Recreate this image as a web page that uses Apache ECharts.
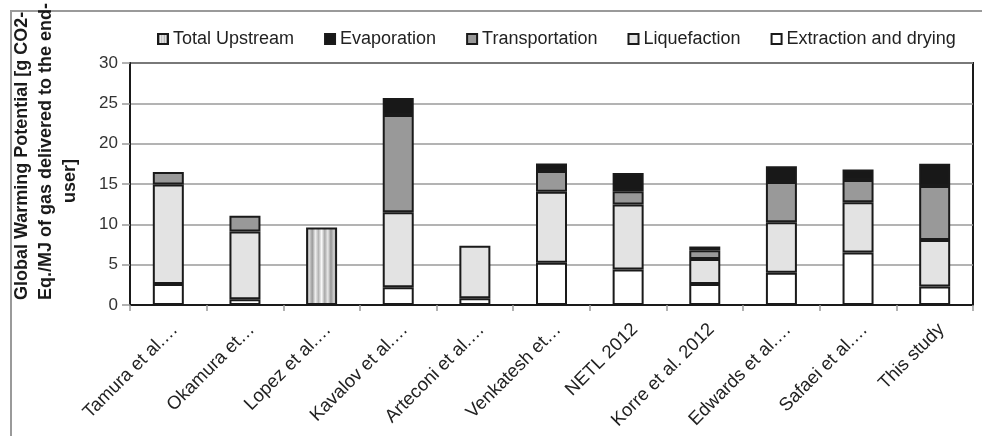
<!DOCTYPE html>
<html>
<head>
<meta charset="utf-8">
<script src="https://cdn.jsdelivr.net/npm/echarts@6/dist/echarts.min.js"></script>
<style>
html,body{margin:0;padding:0;background:#fff;}
#c{width:982px;height:436px;}
</style>
</head>
<body>
<div id="c"></div>
<script>
var categories = ['Tamura et al.\u2026', 'Okamura et\u2026', 'Lopez et al.\u2026', 'Kavalov et al.\u2026', 'Arteconi et al.\u2026', 'Venkatesh et\u2026', 'NETL 2012', 'Korre et al. 2012', 'Edwards et al.\u2026', 'Safaei et al.\u2026', 'This study'];
var extraction     = [2.6, 0.7, null, 2.2, 0.85, 5.25, 4.4, 2.6, 4.0, 6.5, 2.3];
var liquefaction   = [12.35, 8.4, null, 9.3, 6.5, 8.8, 8.05, 3.1, 6.25, 6.25, 5.75];
var transportation = [1.55, 1.95, null, 12.05, null, 2.55, 1.65, 1.1, 5.0, 2.75, 6.7];
var evaporation    = [null, null, null, 2.1, null, 0.95, 2.25, 0.45, 1.95, 1.3, 2.75];
var totalUpstream  = [null, null, 9.6, null, null, null, null, null, null, null, null];
var legendOrder = ['Total Upstream', 'Evaporation', 'Transportation', 'Liquefaction', 'Extraction and drying'];
var yTitleLines = ['Global Warming Potential [g CO2-', 'Eq./MJ of gas delivered to the end-', 'user]'];

var FONT = '"Liberation Sans", Arial, sans-serif';
var chart = echarts.init(document.getElementById('c'), null, {renderer: 'canvas'});

var stripe = new echarts.graphic.LinearGradient(0, 0, 1, 0, [
  {offset: 0, color: '#7a7a7a'}, {offset: 0.1, color: '#d8d8d8'},
  {offset: 0.2, color: '#9a9a9a'}, {offset: 0.3, color: '#eeeeee'},
  {offset: 0.4, color: '#b5b5b5'}, {offset: 0.5, color: '#fafafa'},
  {offset: 0.6, color: '#a8a8a8'}, {offset: 0.7, color: '#e8e8e8'},
  {offset: 0.8, color: '#959595'}, {offset: 0.9, color: '#d0d0d0'},
  {offset: 1, color: '#777777'}
]);

function bar(name, data, color) {
  return {
    name: name, type: 'bar', stack: 'a', data: data, barWidth: 31,
    itemStyle: {color: color, borderColor: '#1a1a1a', borderWidth: 2},
    emphasis: {disabled: true}
  };
}

var option = {
  animation: false,
  backgroundColor: '#fff',
  textStyle: {fontFamily: FONT},
  graphic: [
    {type: 'rect', shape: {x: 11, y: 11, width: 1100, height: 600}, style: {fill: 'none', stroke: '#9a9a9a', lineWidth: 2}, silent: true, z: -1},
    {type: 'text', x: 22, y: 300, rotation: Math.PI / 2, style: {text: yTitleLines[0], font: 'bold 18px ' + FONT, fill: '#1a1a1a', align: 'left', verticalAlign: 'middle'}},
    {type: 'text', x: 46, y: 300, rotation: Math.PI / 2, style: {text: yTitleLines[1], font: 'bold 18px ' + FONT, fill: '#1a1a1a', align: 'left', verticalAlign: 'middle'}},
    {type: 'text', x: 70, y: 181, rotation: Math.PI / 2, style: {text: yTitleLines[2], font: 'bold 18px ' + FONT, fill: '#1a1a1a', align: 'center', verticalAlign: 'middle'}}
  ],
  legend: {
    data: legendOrder,
    left: 152, top: 25,
    itemWidth: 10, itemHeight: 10, itemGap: 30,
    icon: 'rect',
    textStyle: {fontSize: 18, color: '#222', fontFamily: FONT},
    selectedMode: false
  },
  grid: {left: 130, right: 9, top: 63, bottom: 131, show: true, borderColor: '#1a1a1a', borderWidth: 2, backgroundColor: '#fff'},
  xAxis: {
    type: 'category', data: categories,
    axisLine: {lineStyle: {color: '#1a1a1a', width: 2}},
    axisTick: {show: true, alignWithLabel: false, length: 6, lineStyle: {color: '#999', width: 1.5}},
    axisLabel: {rotate: 45, align: 'right', verticalAlign: 'top', margin: 15, fontSize: 18.5, color: '#222', fontFamily: FONT, interval: 0}
  },
  yAxis: {
    type: 'value', min: 0, max: 30, interval: 5,
    axisLine: {show: true, lineStyle: {color: '#1a1a1a', width: 2}},
    axisTick: {show: true, length: 8, lineStyle: {color: '#999', width: 1.5}},
    axisLabel: {margin: 12, fontSize: 17, color: '#333', fontFamily: FONT},
    splitLine: {lineStyle: {color: '#9a9a9a', width: 1.5}}
  },
  series: [
    bar('Extraction and drying', extraction, '#ffffff'),
    bar('Liquefaction', liquefaction, '#e3e3e3'),
    bar('Transportation', transportation, '#999999'),
    bar('Evaporation', evaporation, '#181818'),
    bar('Total Upstream', totalUpstream, stripe)
  ]
};
chart.setOption(option);
</script>
</body>
</html>
